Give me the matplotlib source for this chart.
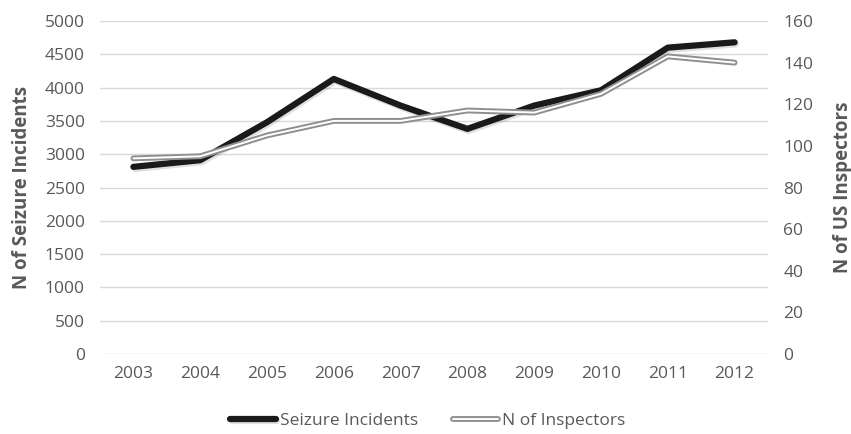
import matplotlib
matplotlib.use("Agg")
import matplotlib.pyplot as plt
import matplotlib.patheffects as pe

years = ["2003", "2004", "2005", "2006", "2007", "2008", "2009", "2010", "2011", "2012"]
seizures = [2810, 2910, 3480, 4130, 3730, 3380, 3730, 3960, 4600, 4680]
inspectors = [94, 95, 105, 112, 112, 117, 116, 125, 143, 140]

txt = "#595959"
plt.rcParams["font.family"] = ["Open Sans", "DejaVu Sans"]

fig = plt.figure(figsize=(8.51, 4.34), dpi=100)
ax1 = fig.add_axes([100 / 851, 1 - 354 / 434, 668 / 851, 333 / 434])
ax2 = ax1.twinx()

x = list(range(len(years)))
shadow = pe.SimpleLineShadow(offset=(1, -1.5), shadow_color="black", alpha=0.12)

l1, = ax1.plot(x, seizures, color="#1a1a1a", lw=4.5, solid_capstyle="round",
               solid_joinstyle="round", path_effects=[shadow, pe.Normal()],
               label="Seizure Incidents", zorder=3)
l2, = ax2.plot(x, inspectors, color="white", lw=1.4, solid_capstyle="round",
               path_effects=[pe.Stroke(linewidth=4.2, foreground="#8f8f8f"), pe.Normal()],
               label="N of Inspectors", zorder=3)

ax1.set_xlim(-0.5, len(years) - 0.5)
ax1.set_ylim(0, 5000)
ax1.set_yticks(range(0, 5001, 500))
ax2.set_ylim(0, 160)
ax2.set_yticks(range(0, 161, 20))
ax1.set_xticks(x)
ax1.set_xticklabels(years)

ax1.yaxis.grid(True, color="#d9d9d9", lw=1)
ax1.set_axisbelow(True)
for ax in (ax1, ax2):
    for s in ax.spines.values():
        s.set_visible(False)
    ax.tick_params(length=0, labelsize=12.5, labelcolor=txt)
ax1.tick_params(axis="y", pad=11)
ax2.tick_params(axis="y", pad=11)
ax1.tick_params(axis="x", pad=9)

ax1.set_ylabel("N of Seizure Incidents", fontsize=13.5, fontweight="bold", color=txt, labelpad=9)
ax2.set_ylabel("N of US Inspectors", fontsize=13.5, fontweight="bold", color=txt, labelpad=14)

fig.legend(handles=[l1, l2], loc="lower center", bbox_to_anchor=(428 / 851, -0.025), ncol=2,
           frameon=False, fontsize=12.5, labelcolor=txt, handlelength=2.6,
           handletextpad=0.25, columnspacing=2.0)

fig.savefig("out.png", dpi=100)
